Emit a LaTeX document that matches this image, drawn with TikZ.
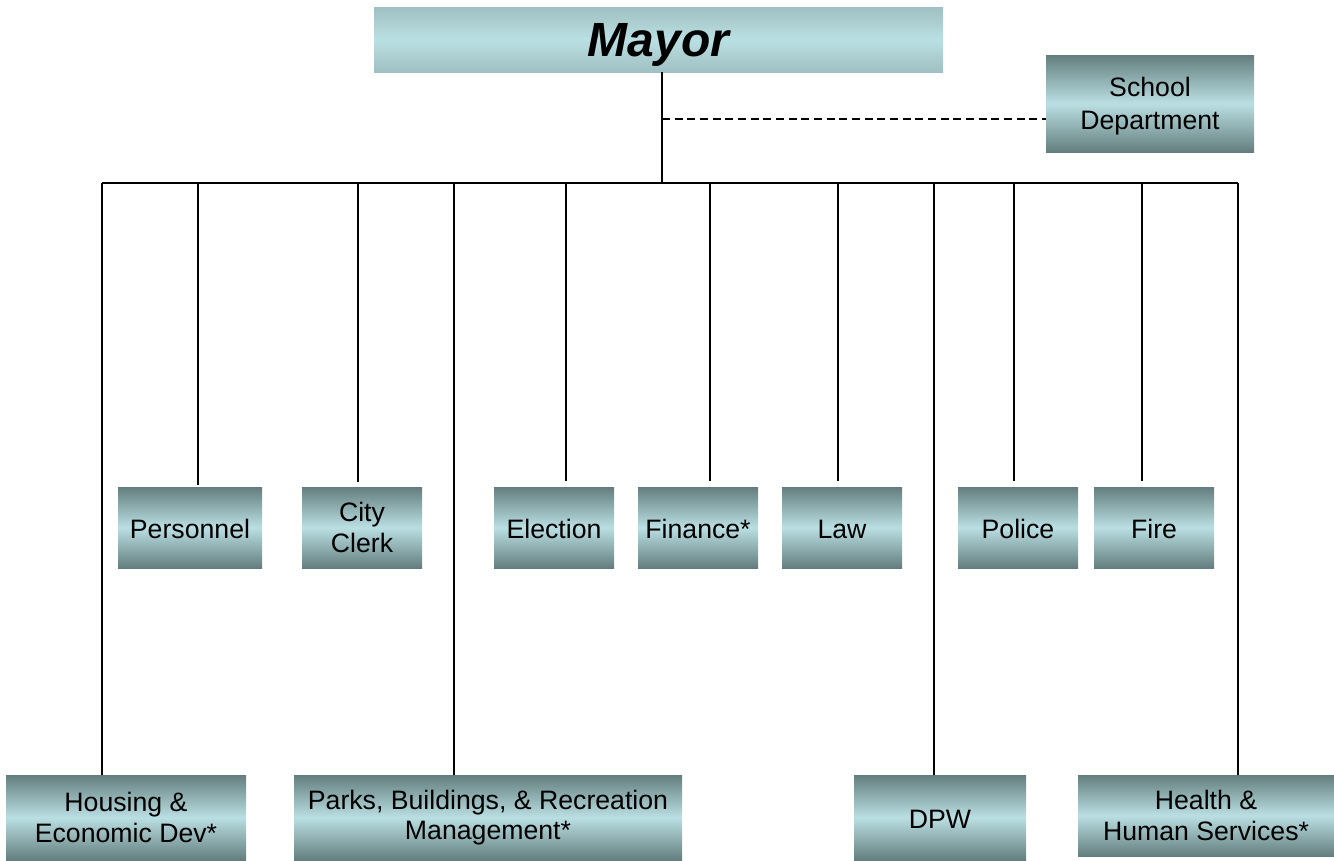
\documentclass[tikz,border=0pt]{standalone}
\usepackage{fontspec}
\setmainfont{Liberation Sans}
\definecolor{gdark}{RGB}{100,126,126}
\definecolor{glight}{RGB}{186,223,227}
\definecolor{mtop}{RGB}{160,192,194}
\begin{document}
\begin{tikzpicture}[x=0.75pt,y=-0.75pt,
  box/.style={rectangle,inner sep=0pt,align=center,text=black,
    top color=gdark,bottom color=gdark,middle color=glight,
    font=\fontsize{20}{23}\selectfont},
  mid/.style={box,minimum height=60.75pt},
  low/.style={box,minimum height=63.75pt},
  one/.style={text height=17pt,text depth=0pt},
  conn/.style={line width=1.6pt,black},
  dconn/.style={line width=1.8pt,black,dash pattern=on 6pt off 3.5pt}]
\useasboundingbox (0,0) rectangle (1334,860);
% top
\node[box,top color=mtop,bottom color=mtop,middle color=glight,minimum width=426.75pt,minimum height=48.75pt,text height=28pt,text depth=2pt,font=\fontsize{36}{40}\selectfont\bfseries\itshape] (mayor) at (658.5,39.5) {Mayor};
\node[box,minimum width=156pt,minimum height=72.75pt,text depth=0pt,font=\fontsize{20}{24.5}\selectfont] (school) at (1150,103.5) {School\\Department};
% middle row
\node[mid,one,minimum width=108pt] (pers) at (190,527.5) {Personnel};
\node[mid,minimum width=90pt] (clerk) at (362,527.5) {City\\Clerk};
\node[mid,one,minimum width=90pt] (elect) at (554,527.5) {Election};
\node[mid,one,minimum width=90pt] (fin) at (698,527.5) {Finance*};
\node[mid,one,minimum width=90pt] (law) at (842,527.5) {Law};
\node[mid,one,minimum width=90pt] (police) at (1018,527.5) {Police};
\node[mid,one,minimum width=90pt] (fire) at (1154,527.5) {Fire};
% bottom row
\node[low,minimum width=180pt] (house) at (126,817.5) {Housing \&\\Economic Dev*};
\node[low,minimum width=291pt] (parks) at (488,817.5) {Parks, Buildings, \& Recreation\\Management*};
\node[low,one,minimum width=129pt] (dpw) at (940,817.5) {DPW};
\node[mid,minimum width=192pt] (health) at (1206,815.5) {Health \&\\Human Services*};
% connectors
\coordinate (t) at (662,183);
\coordinate (d) at (662,119);
\draw[conn] (t |- mayor.south) -- (t);
\draw[dconn] (d) -- (d -| school.west);
\coordinate (bl) at (102,183);
\coordinate (br) at (1238,183);
\draw[conn] (bl) -- (br);
\draw[conn] (bl) -- (bl |- house.north);
\draw[conn] (br) -- (br |- health.north);
\coordinate (c1) at (198,183);
\coordinate (c2) at (358,183);
\coordinate (c3) at (454,183);
\coordinate (c4) at (566,183);
\coordinate (c5) at (710,183);
\coordinate (c6) at (838,183);
\coordinate (c7) at (934,183);
\coordinate (c8) at (1014,183);
\coordinate (c9) at (1142,183);
\draw[conn,shorten >=1.5pt] (c1) -- (c1 |- pers.north);
\draw[conn,shorten >=3.5pt] (c2) -- (c2 |- clerk.north);
\draw[conn] (c3) -- (c3 |- parks.north);
\draw[conn,shorten >=4pt] (c4) -- (c4 |- elect.north);
\draw[conn,shorten >=4pt] (c5) -- (c5 |- fin.north);
\draw[conn,shorten >=4pt] (c6) -- (c6 |- law.north);
\draw[conn] (c7) -- (c7 |- dpw.north);
\draw[conn,shorten >=4pt] (c8) -- (c8 |- police.north);
\draw[conn,shorten >=4pt] (c9) -- (c9 |- fire.north);
\end{tikzpicture}
\end{document}
